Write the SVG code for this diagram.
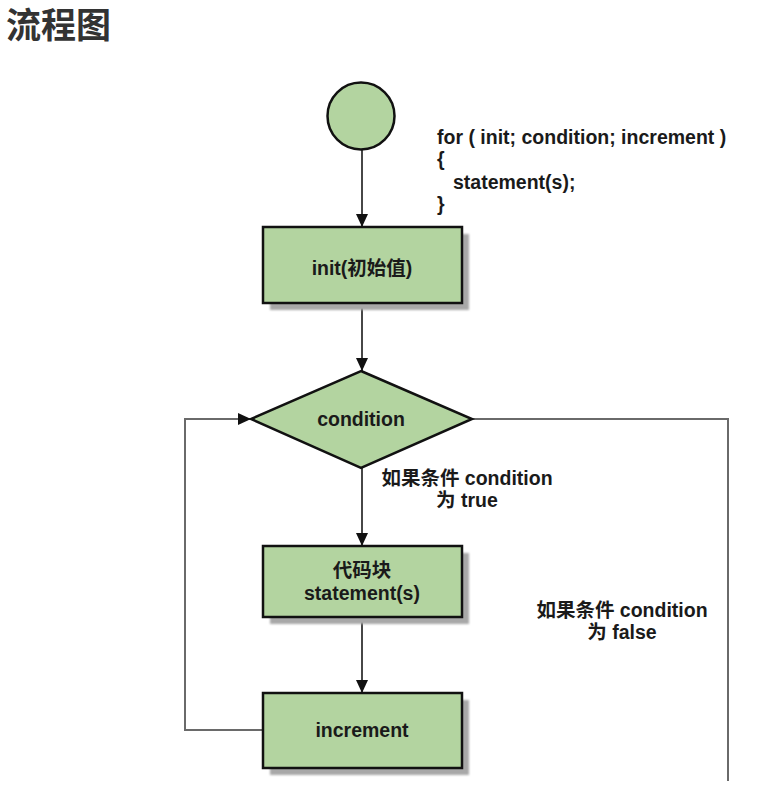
<svg xmlns="http://www.w3.org/2000/svg" width="767" height="787" viewBox="0 0 767 787">
  <style>
    .t { font-family: "Liberation Sans", "Noto Sans CJK SC", sans-serif; font-weight: bold; fill: #1a1a1a; }
    .code { font-size: 19.5px; }
    .lbl { font-size: 19.5px; }
    .nt { font-size: 19.5px; }
    .node { fill: #b3d4a0; stroke: #111; stroke-width: 2.5; }
    .shadow { fill: #a8a8a8; filter: url(#blur); }
    .flow { fill: none; stroke: #333; stroke-width: 1.8; }
    .loop { fill: none; stroke: #6a6a6a; stroke-width: 2; }
  </style>
  <defs>
    <filter id="blur" x="-10%" y="-10%" width="120%" height="120%">
      <feGaussianBlur stdDeviation="1.2"/>
    </filter>
    <marker id="arrow" markerWidth="14" markerHeight="14" refX="13" refY="7" orient="auto" markerUnits="userSpaceOnUse">
      <path d="M0,1 L13,7 L0,13 Z" fill="#111"/>
    </marker>
  </defs>
  <rect width="767" height="787" fill="#ffffff"/>

  <text class="t" x="6" y="38" font-size="35" style="fill:#333">流程图</text>

  <g id="code">
    <text class="t code" x="437" y="144">for ( init; condition; increment )</text>
    <text class="t code" x="437" y="166">{</text>
    <text class="t code" x="453" y="189">statement(s);</text>
    <text class="t code" x="437" y="211">}</text>
  </g>

  <g id="connectors">
    <line class="flow" x1="362" y1="150" x2="362" y2="227" marker-end="url(#arrow)"/>
    <line class="flow" x1="362" y1="302" x2="362" y2="371" marker-end="url(#arrow)"/>
    <line class="flow" x1="362" y1="468" x2="362" y2="546" marker-end="url(#arrow)"/>
    <line class="flow" x1="362" y1="616" x2="362" y2="693" marker-end="url(#arrow)"/>
    <polyline class="loop" points="263,730 185,730 185,419 251,419" marker-end="url(#arrow)"/>
    <polyline class="loop" points="472,419 728,419 728,781"/>
  </g>

  <g id="start">
    <circle class="node" cx="361" cy="116" r="33.5"/>
  </g>

  <g id="init">
    <rect class="shadow" x="270" y="234" width="199" height="76"/>
    <rect class="node" x="263" y="227" width="199" height="76"/>
    <text class="t nt" x="362" y="275" text-anchor="middle">init(初始值)</text>
  </g>

  <g id="condition">
    <polygon class="node" points="361,371 472,419 361,468 251,419"/>
    <text class="t nt" x="361" y="426" text-anchor="middle">condition</text>
  </g>

  <g id="statement">
    <rect class="shadow" x="270" y="553" width="199" height="71"/>
    <rect class="node" x="263" y="546" width="199" height="71"/>
    <text class="t nt" x="362" y="577" text-anchor="middle">代码块</text>
    <text class="t nt" x="362" y="600" text-anchor="middle">statement(s)</text>
  </g>

  <g id="increment">
    <rect class="shadow" x="270" y="700" width="199" height="75"/>
    <rect class="node" x="263" y="693" width="199" height="75"/>
    <text class="t nt" x="362" y="737" text-anchor="middle">increment</text>
  </g>

  <g id="label-true">
    <text class="t lbl" x="467" y="485" text-anchor="middle">如果条件 condition</text>
    <text class="t lbl" x="467" y="507" text-anchor="middle">为 true</text>
  </g>

  <g id="label-false">
    <text class="t lbl" x="622" y="617" text-anchor="middle">如果条件 condition</text>
    <text class="t lbl" x="622" y="639" text-anchor="middle">为 false</text>
  </g>
</svg>
